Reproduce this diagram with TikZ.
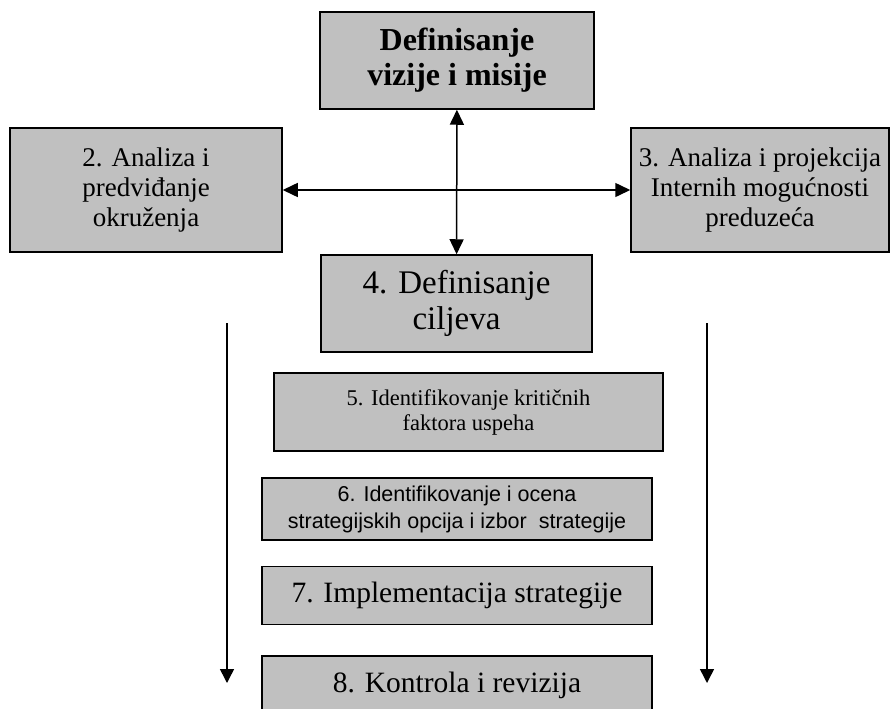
\documentclass[tikz,border=0pt]{standalone}
\usepackage{fontspec}
\setmainfont{Liberation Serif}
\newfontfamily\arialfont{Liberation Sans}
\usepackage{tikz}
\usetikzlibrary{arrows.meta,positioning}
\definecolor{boxGray}{HTML}{C0C0C0}
\tikzset{
myBox/.style={
	rectangle,draw=black,fill=boxGray,line width=1.5pt,
	inner sep=0pt,align=center,text=black
}
, myWide/.style={myBox,minimum width=390pt}
% link
, myLink/.style={{Triangle[length=15pt,width=14pt]}-{Triangle[length=15pt,width=14pt]},line width=1.5pt}
, myFlow/.style={-{Triangle[length=14pt,width=14pt]},line width=1.5pt}
}

\begin{document}
\begin{tikzpicture}[x=1pt,y=-1pt]
	\useasboundingbox (0,0) rectangle (891,709);
	% nodes
	\node[myBox,minimum width=274pt,minimum height=97pt,font=\fontsize{32}{35}\selectfont\bfseries] (Vision) at (457,60.5) {Definisanje\\vizije i misije};
	\node[myBox,minimum width=272pt,minimum height=124pt,font=\fontsize{27}{30}\selectfont] (Env) at (146,190) {2. Analiza i\\predviđanje\\okruženja};
	\node[myBox,minimum width=258pt,minimum height=124pt,font=\fontsize{27}{30}\selectfont] (Internal) at (760,190) {3. Analiza i projekcija\\Internih mogućnosti\\preduzeća};
	\node[myBox,minimum width=271pt,minimum height=97pt,font=\fontsize{33}{36}\selectfont] (Goals) at (456.5,303.5) {4. Definisanje\\ciljeva};
	\node[myBox,minimum width=389pt,minimum height=78pt,font=\fontsize{22.5}{25}\selectfont] (Factors) at (468.5,412) {5. Identifikovanje kritičnih\\faktora uspeha};
	% steps
	\node[myWide,minimum height=62pt,font=\fontsize{21.5}{27}\selectfont\arialfont] (Options) at (457,509) {6. Identifikovanje i ocena\\strategijskih opcija i izbor~~strategije};
	\node[myWide,minimum height=58pt,font=\fontsize{29.5}{30}\selectfont] (Impl) [below=25pt of Options] {7. Implementacija strategije};
	\node[myWide,minimum height=58pt,font=\fontsize{29.5}{30}\selectfont] (Control) [below=30pt of Impl] {8. Kontrola i revizija};
	% side flow
	\coordinate (LeftTop) at (227,323);
	\coordinate (LeftEnd) at (227,683);
	\coordinate (RightTop) at (707,323);
	\coordinate (RightEnd) at (707,683);

	% links
	\draw [myLink] (Env) -- (Internal);
	\draw [myLink] (Vision) -- (Goals);
	\draw [myFlow] (LeftTop) -- (LeftEnd);
	\draw [myFlow] (RightTop) -- (RightEnd);
\end{tikzpicture}
\end{document}
